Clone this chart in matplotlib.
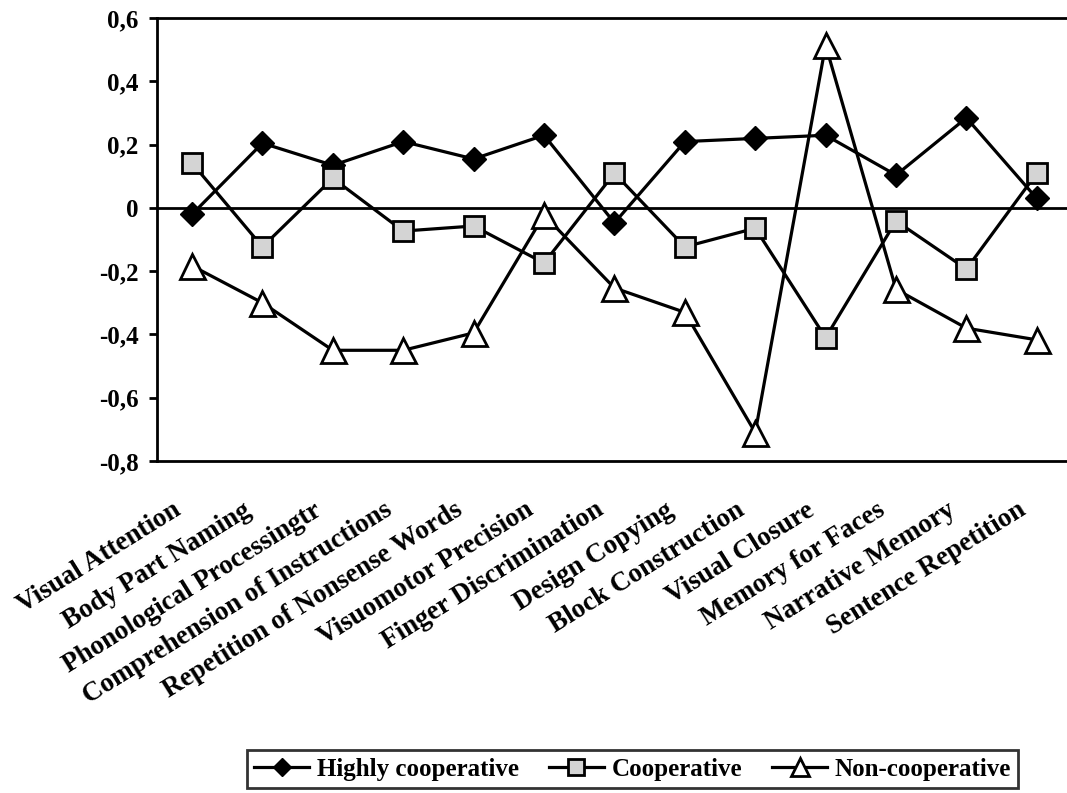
import matplotlib.pyplot as plt
from matplotlib.ticker import FixedLocator
from matplotlib.transforms import ScaledTranslation

categories = ['Visual Attention', 'Body Part Naming', 'Phonological Processingtr',
              'Comprehension of Instructions', 'Repetition of Nonsense Words',
              'Visuomotor Precision', 'Finger Discrimination', 'Design Copying',
              'Block Construction', 'Visual Closure', 'Memory for Faces',
              'Narrative Memory', 'Sentence Repetition']
highly_coop = [-0.02, 0.205, 0.135, 0.21, 0.155, 0.23, -0.047, 0.21, 0.22, 0.23, 0.104, 0.285, 0.03]
coop = [0.142, -0.123, 0.094, -0.073, -0.057, -0.174, 0.11, -0.123, -0.064, -0.41, -0.041, -0.193, 0.11]
non_coop = [-0.183, -0.30, -0.45, -0.45, -0.395, -0.022, -0.253, -0.33, -0.71, 0.515, -0.257, -0.38, -0.417]
y_ticks = [-0.8, -0.6, -0.4, -0.2, 0, 0.2, 0.4, 0.6]
y_labels = ['-0,8', '-0,6', '-0,4', '-0,2', '0', '0,2', '0,4', '0,6']

plt.rcParams['font.family'] = 'Liberation Serif'
plt.rcParams['font.weight'] = 'bold'

fig = plt.figure(figsize=(10.67, 7.93), dpi=100)
ax = fig.add_axes([0.147, 0.4187, 0.8577, 0.5583])

x = list(range(len(categories)))
ax.plot(x, highly_coop, color='black', lw=2.3, marker='D', markersize=12.5,
        mfc='black', mec='black', label='Highly cooperative', zorder=3)
ax.plot(x, coop, color='black', lw=2.3, marker='s', markersize=15,
        mfc='#d4d4d4', mec='black', mew=2, label='Cooperative', zorder=3)
ax.plot(x, non_coop, color='black', lw=2.3, marker='^', markersize=18,
        mfc='white', mec='black', mew=2, label='Non-cooperative', zorder=3)

ax.axhline(0, color='black', lw=2, zorder=2)
ax.set_xlim(-0.5, len(categories) - 0.5)
ax.set_ylim(-0.8, 0.6)
ax.yaxis.set_major_locator(FixedLocator(y_ticks))
ax.set_yticklabels(y_labels, fontsize=18, fontweight='bold')
ax.tick_params(axis='y', direction='out', length=6, width=2, pad=7)

ax.set_xticks(x)
ax.set_xticklabels(categories, fontsize=19.5, fontweight='bold', rotation=32,
                   ha='right', va='center', rotation_mode='anchor')
ax.tick_params(axis='x', length=0, pad=34)
shift = ScaledTranslation(-13 / 100, 0, fig.dpi_scale_trans)
for lab in ax.get_xticklabels():
    lab.set_transform(lab.get_transform() + shift)

for side in ['left', 'top', 'bottom']:
    ax.spines[side].set_linewidth(2)
ax.spines['right'].set_visible(False)

leg = fig.legend(loc='center', bbox_to_anchor=(0.593, 0.030), ncol=3,
                 prop={'size': 18, 'weight': 'bold'}, frameon=True, fancybox=False,
                 handlelength=2.2, handletextpad=0.3, columnspacing=1.2,
                 borderpad=0.3, markerscale=0.75)
leg.get_frame().set_edgecolor('black')
leg.get_frame().set_linewidth(2)

fig.savefig('out.png', dpi=100)
